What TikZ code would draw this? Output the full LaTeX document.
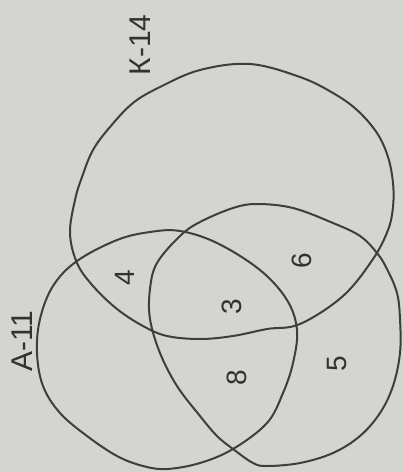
\documentclass[tikz,border=0pt]{standalone}
\usepackage{fontspec}
\setmainfont{Liberation Sans}
\usepackage{xcolor}
\usetikzlibrary{positioning}

\definecolor{paper}{RGB}{212,212,209}
\definecolor{pencil}{RGB}{62,62,62}
\definecolor{ink}{RGB}{50,50,50}

\begin{document}
\begin{tikzpicture}[
  x=1pt, y=-1pt,
  setline/.style={draw=pencil, line width=2pt, line join=round},
  setlabel/.style={text=ink, rotate=90, inner sep=0pt, font=\fontsize{30}{30}\selectfont},
  count/.style={text=ink, rotate=90, inner sep=0pt, font=\fontsize{28}{28}\selectfont}
]
  \fill[paper] (0,0) rectangle (403,472);
  \useasboundingbox (0,0) rectangle (403,472);

  % set K
  \draw[setline] plot[smooth cycle, tension=0.6] coordinates {
    (70,233) (75,200) (82,177) (93,150) (110,127) (133,103) (160,87) (200,70)
    (250,64) (300,77) (333,93) (357,110) (377,133) (388,157) (393,183) (393,207)
    (388,230) (373,259) (343,296) (300,324) (267,329) (233,336) (200,339)
    (167,336) (143,326) (117,309) (93,286) (77,263)};
  % set A
  \draw[setline] plot[smooth cycle, tension=0.6] coordinates {
    (37,353) (43,386) (60,413) (87,436) (117,456) (143,466) (167,469) (200,463)
    (233,449) (267,423) (283,393) (293,363) (297,330) (287,300) (260,270)
    (217,243) (180,231) (150,232) (117,240) (77,261) (53,286) (40,319)};
  % third set
  \draw[setline] plot[smooth cycle, tension=0.6] coordinates {
    (257,204) (293,208) (333,223) (360,236) (377,253) (387,269) (397,293)
    (400,319) (400,353) (393,386) (380,413) (360,436) (333,453) (300,463)
    (267,466) (253,463) (233,449) (217,436) (200,416) (177,386) (160,353)
    (150,319) (150,289) (157,263) (180,236) (200,222) (233,208)};

  \node[setlabel] (alabel) at (22,341) {А-11};
  \node[setlabel] (klabel) at (140,45) {К-14};

  \node[count] (ak) at (125,278) {4};
  \node[count] (kr) at (302,261) {6};
  \node[count] (akr) at (232,307) {3};
  \node[count] (ar) at (237,378) {8};
  \node[count] (ronly) at (337,364) {5};
\end{tikzpicture}
\end{document}
